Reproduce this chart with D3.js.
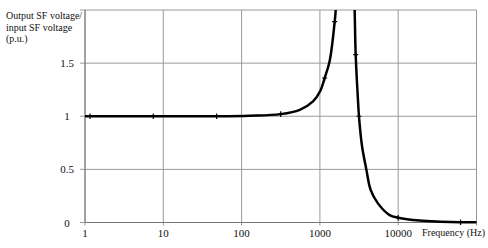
<!DOCTYPE html>
<html>
<head>
<meta charset="utf-8">
<script src="https://cdn.jsdelivr.net/npm/d3@7"></script>
<style>
  body { margin: 0; background: #fff; }
  svg { display: block; }
  text { font-family: "Liberation Serif", "DejaVu Serif", serif; fill: #111; }
</style>
</head>
<body>
<div id="chart"></div>
<script>
// Values
const freqLeft = [1, 7.5, 48, 127, 316, 553, 817, 1014, 1151, 1333, 1545, 1592, 1680];
const valLeft = [1.0, 1.0, 1.0, 1.005, 1.02, 1.06, 1.14, 1.24, 1.36, 1.52, 1.89, 2.0, 2.4];
const freqRight = [2700, 2780, 2864, 3065, 3154, 3450, 3917, 4446, 5510, 7766, 10000, 18750, 35000, 62500, 100000];
const valRight = [2.4, 2.0, 1.58, 1.15, 1.0, 0.72, 0.5, 0.307, 0.18, 0.07, 0.045, 0.018, 0.008, 0.003, 0.002];
const markerFreq = [1.16, 7.45, 48, 316, 1151, 1545, 2864, 3154, 10000, 62500];
const markerVal = [1.0, 1.0, 1.0, 1.02, 1.36, 1.89, 1.58, 1.0, 0.045, 0.003];
const xTicks = [1, 10, 100, 1000, 10000];
const xGrid = [1, 10, 100, 1000, 10000, 100000];
const yTicks = [0, 0.5, 1, 1.5];
const yGrid = [0, 0.5, 1, 1.5, 2];
const yTitle = ["Output SF voltage/", "input SF voltage", "(p.u.)"];

const width = 488, height = 248;
const plotLeft = 85, plotRight = 476.5, plotTop = 10, plotBottom = 222.5;

const svg = d3.select("#chart").append("svg")
  .attr("width", width)
  .attr("height", height);

const x = d3.scaleLog().domain([1, 100000]).range([plotLeft, plotRight]);
const y = d3.scaleLinear().domain([0, 2]).range([plotBottom, plotTop]);

// Grid lines
svg.selectAll(".vgrid")
  .data(xGrid)
  .enter().append("line")
  .attr("x1", d => x(d)).attr("x2", d => x(d))
  .attr("y1", plotTop).attr("y2", plotBottom + 3)
  .attr("stroke", "#9a9a9a").attr("stroke-width", 1);

svg.selectAll(".hgrid")
  .data(yGrid)
  .enter().append("line")
  .attr("x1", plotLeft - 5).attr("x2", plotRight)
  .attr("y1", d => y(d)).attr("y2", d => y(d))
  .attr("stroke", "#9a9a9a").attr("stroke-width", 1);

// Axis lines
svg.append("line")
  .attr("x1", plotLeft).attr("x2", plotLeft).attr("y1", plotTop).attr("y2", plotBottom)
  .attr("stroke", "#777").attr("stroke-width", 1);
svg.append("line")
  .attr("x1", plotLeft).attr("x2", plotRight).attr("y1", plotBottom).attr("y2", plotBottom)
  .attr("stroke", "#777").attr("stroke-width", 1);

// Tick labels
svg.selectAll(".xlab")
  .data(xTicks)
  .enter().append("text")
  .attr("x", d => x(d)).attr("y", 237)
  .attr("text-anchor", "middle")
  .style("font-size", "11px")
  .text(d => d);

svg.selectAll(".ylab")
  .data(yTicks)
  .enter().append("text")
  .attr("x", 67).attr("y", d => y(d) + 4)
  .attr("text-anchor", "middle")
  .style("font-size", "11px")
  .text(d => d);

svg.append("text")
  .attr("x", 422).attr("y", 236)
  .style("font-size", "10px")
  .text("Frequency (Hz)");

svg.selectAll(".ytitle")
  .data(yTitle)
  .enter().append("text")
  .attr("x", 6).attr("y", (d, i) => 19 + i * 11.5)
  .style("font-size", "10px")
  .text(d => d);

// Clip curve to the plot area
svg.append("clipPath").attr("id", "plotClip")
  .append("rect")
  .attr("x", plotLeft).attr("y", plotTop)
  .attr("width", plotRight - plotLeft + 2).attr("height", plotBottom - plotTop + 2);

const line = d3.line()
  .x(d => x(d[0]))
  .y(d => y(d[1]))
  .curve(d3.curveCatmullRom.alpha(0.5));

const branches = [
  d3.zip(freqLeft, valLeft),
  d3.zip(freqRight, valRight)
];

svg.append("g").attr("clip-path", "url(#plotClip)")
  .selectAll("path")
  .data(branches)
  .enter().append("path")
  .attr("d", line)
  .attr("fill", "none")
  .attr("stroke", "#000")
  .attr("stroke-width", 2.5)
  .attr("stroke-linejoin", "round");

// Small cross markers on the curve
svg.selectAll(".marker")
  .data(d3.zip(markerFreq, markerVal))
  .enter().append("path")
  .attr("transform", d => `translate(${x(d[0])},${y(d[1])})`)
  .attr("d", "M-2.5,0H2.5M0,-2.8V2.8")
  .attr("stroke", "#000")
  .attr("stroke-width", 1.2);
</script>
</body>
</html>
